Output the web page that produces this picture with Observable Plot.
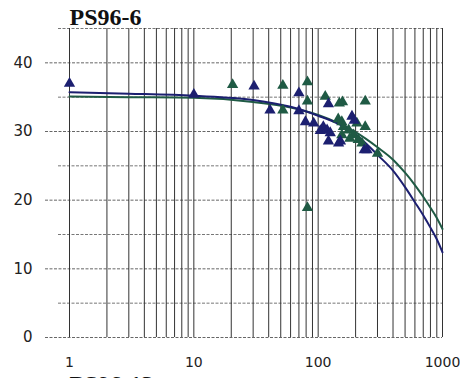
<!DOCTYPE html>
<html>
<head>
<meta charset="utf-8">
<script src="https://cdn.jsdelivr.net/npm/d3@7"></script>
<script src="https://cdn.jsdelivr.net/npm/@observablehq/plot@0.6"></script>
<style>
  html, body { margin: 0; padding: 0; background: white; overflow: hidden; }
</style>
</head>
<body>
<div id="chart"></div>
<script>
// ---- data ----
const title = "PS96-6";
const nextTitle = "PS96-13";

const xTicks = [1, 10, 100, 1000];
const yTicks = [0, 10, 20, 30, 40];
const xGrid = [1, 2, 3, 4, 5, 6, 7, 8, 9, 10, 20, 30, 40, 50, 60, 70, 80, 90,
               100, 200, 300, 400, 500, 600, 700, 800, 900, 1000];
const yGridMajor = [0, 10, 20, 30, 40];
const yGridMinor = [5, 15, 25, 35, 45];

// fitted curves
const navyCurveX = [1, 3, 10, 30, 60, 100, 150, 200, 300, 400, 500, 600, 700, 800, 900, 1000];
const navyCurveY = [35.7, 35.5, 35.2, 34.6, 33.6, 32.3, 31.0, 29.6, 26.6, 24.3, 21.9, 19.7, 17.8, 16.0, 14.3, 12.4];
const greenCurveX = [1, 3, 10, 30, 60, 100, 150, 200, 300, 400, 500, 600, 700, 800, 900, 1000];
const greenCurveY = [35.1, 35.0, 34.9, 34.3, 33.5, 32.4, 31.1, 29.9, 27.7, 25.9, 24.0, 22.2, 20.5, 18.9, 17.4, 15.8];

// observed points (triangles)
const navyX = [1, 10, 30.5, 41, 70, 70, 79, 92, 110, 104, 118, 125, 121, 146, 151, 121, 187, 195, 235, 247];
const navyY = [37.0, 35.4, 36.6, 33.1, 35.6, 33.0, 31.4, 31.2, 30.7, 30.1, 30.2, 29.8, 28.6, 28.3, 28.6, 34.0, 32.2, 31.6, 27.3, 27.3];
const greenX = [20.5, 52, 82, 52, 82, 114, 148, 157, 239, 82, 155, 160, 176, 155, 193, 239, 225, 300, 145, 205, 180, 210];
const greenY = [36.8, 36.7, 37.2, 33.1, 34.4, 35.1, 34.1, 34.3, 34.4, 18.9, 31.4, 30.7, 30.2, 29.5, 29.5, 30.7, 28.3, 26.8, 31.8, 31.2, 29.0, 28.8];

const navyColor = "#1c1f70";
const greenColor = "#1f5a44";

const navyCurve = navyCurveX.map((x, i) => ({x, y: navyCurveY[i]}));
const greenCurve = greenCurveX.map((x, i) => ({x, y: greenCurveY[i]}));
const navyPts = navyX.map((x, i) => ({x, y: navyY[i]}));
const greenPts = greenX.map((x, i) => ({x, y: greenY[i]}));

const chart = Plot.plot({
  width: 460,
  height: 378,
  marginLeft: 69,
  marginRight: 18,
  marginTop: 28,
  marginBottom: 41,
  style: {fontFamily: "DejaVu Sans", fontSize: "14px", background: "white", color: "#222"},
  x: {type: "log", domain: [1, 1000]},
  y: {domain: [0, 45]},
  marks: [
    Plot.ruleY(yGridMinor, {stroke: "#777", strokeDasharray: "3,1.5", strokeWidth: 1, insetLeft: -11}),
    Plot.ruleY(yGridMajor, {stroke: "#666", strokeDasharray: "3,1.5", strokeWidth: 1, insetLeft: -24}),
    Plot.ruleX(xGrid, {stroke: "#333", strokeWidth: 1}),
    Plot.line(greenCurve, {x: "x", y: "y", stroke: greenColor, strokeWidth: 2, curve: "monotone-x"}),
    Plot.line(navyCurve, {x: "x", y: "y", stroke: navyColor, strokeWidth: 2, curve: "monotone-x"}),
    Plot.dot(greenPts, {x: "x", y: "y", symbol: "triangle", r: 4.2, fill: greenColor, stroke: null}),
    Plot.dot(navyPts, {x: "x", y: "y", symbol: "triangle", r: 4.2, fill: navyColor, stroke: null}),
    Plot.axisX(xTicks, {tickSize: 0, tickPadding: 20, tickFormat: d => String(d), label: null, fontSize: 14}),
    Plot.axisY(yTicks, {tickSize: 0, tickPadding: 37, tickFormat: d => String(d), label: null, fontSize: 15}),
    Plot.text([title], {frameAnchor: "top-left", textAnchor: "start", lineAnchor: "top", dy: -21,
      fontFamily: "Liberation Serif", fontWeight: "bold", fontSize: 24, fill: "#111"}),
    Plot.text([nextTitle], {frameAnchor: "bottom-left", textAnchor: "start", lineAnchor: "top", dy: 37,
      fontFamily: "Liberation Serif", fontWeight: "bold", fontSize: 24, fill: "#111"})
  ]
});
document.getElementById("chart").append(chart);
</script>
</body>
</html>
